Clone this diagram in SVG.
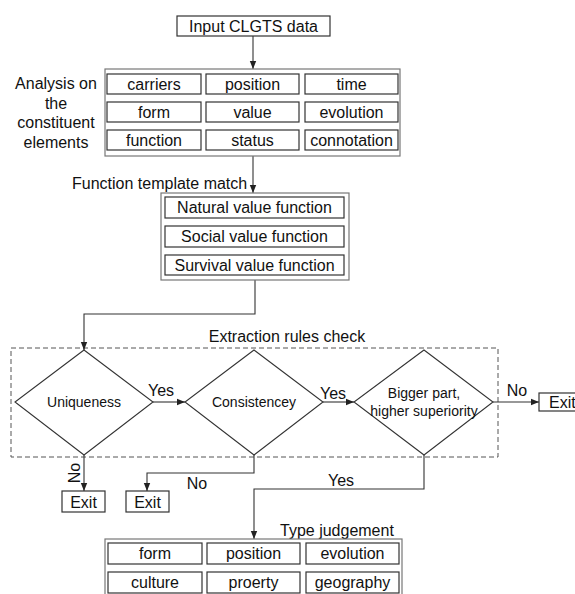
<svg xmlns="http://www.w3.org/2000/svg" width="575" height="594" viewBox="0 0 575 594">
  <style>
    text { font-family: "Liberation Sans", Arial, sans-serif; fill: #111; }
    .t16 { font-size: 16px; }
    .t14 { font-size: 14px; }
    .mid { text-anchor: middle; }
    .box { fill: #fff; stroke: #333; stroke-width: 1.2; }
    .outer { fill: #fff; stroke: #777; stroke-width: 1.2; }
    .dia { fill: none; stroke: #333; stroke-width: 1.1; }
    .line { fill: none; stroke: #333; stroke-width: 1.1; }
    .dash { fill: none; stroke: #555; stroke-width: 1; stroke-dasharray: 5 3; }
  </style>
  <defs>
    <marker id="arrow" viewBox="0 0 8 8" refX="8" refY="4" markerWidth="8" markerHeight="8" markerUnits="userSpaceOnUse" orient="auto">
      <path d="M0,0.8 L8,4 L0,7.2 Z" fill="#222"/>
    </marker>
  </defs>
  <rect width="575" height="594" fill="#fff"/>

  <!-- extraction rules frame -->
  <g id="extraction-frame">
    <rect class="dash" x="11" y="348" width="487" height="109"/>
    <text class="t16 mid" x="287" y="342">Extraction rules check</text>
  </g>

  <g id="connectors">
    <path class="line" d="M253,36 V69" marker-end="url(#arrow)"/>
    <path class="line" d="M253,156 V193" marker-end="url(#arrow)"/>
    <path class="line" d="M255,280 V314 H84 V350" marker-end="url(#arrow)"/>
    <path class="line" d="M153,402 H185" marker-end="url(#arrow)"/>
    <path class="line" d="M323,402 H354" marker-end="url(#arrow)"/>
    <path class="line" d="M493,402 H539" marker-end="url(#arrow)"/>
    <path class="line" d="M84,455 V491" marker-end="url(#arrow)"/>
    <path class="line" d="M254,455 V473 H147 V491" marker-end="url(#arrow)"/>
    <path class="line" d="M424,455 V489 H254 V539" marker-end="url(#arrow)"/>
    <text class="t16 mid" x="161" y="395.5">Yes</text>
    <text class="t16 mid" x="333" y="398.5">Yes</text>
    <text class="t16 mid" x="517" y="396">No</text>
    <text class="t16 mid" transform="translate(79.5,473) rotate(-90)">No</text>
    <text class="t16 mid" x="197" y="489">No</text>
    <text class="t16 mid" x="341" y="485.5">Yes</text>
  </g>

  <g id="input">
    <rect class="box" x="177" y="16" width="153" height="20"/>
    <text class="t16 mid" x="253.5" y="31.5">Input CLGTS data</text>
  </g>

  <g id="analysis">
    <text class="t16 mid" x="56" y="89">Analysis on</text>
    <text class="t16 mid" x="56" y="108.5">the</text>
    <text class="t16 mid" x="56" y="128">constituent</text>
    <text class="t16 mid" x="56" y="147.5">elements</text>
    <rect class="outer" x="105" y="69" width="295" height="87"/>
    <rect class="box" x="107" y="74" width="94" height="20"/>
    <rect class="box" x="206" y="74" width="93" height="20"/>
    <rect class="box" x="305" y="74" width="93" height="20"/>
    <rect class="box" x="107" y="102" width="94" height="20"/>
    <rect class="box" x="206" y="102" width="93" height="20"/>
    <rect class="box" x="305" y="102" width="93" height="20"/>
    <rect class="box" x="107" y="130" width="94" height="20"/>
    <rect class="box" x="206" y="130" width="93" height="20"/>
    <rect class="box" x="305" y="130" width="93" height="20"/>
    <text class="t16 mid" x="154" y="89.5">carriers</text>
    <text class="t16 mid" x="252.5" y="89.5">position</text>
    <text class="t16 mid" x="351.5" y="89.5">time</text>
    <text class="t16 mid" x="154" y="117.5">form</text>
    <text class="t16 mid" x="252.5" y="117.5">value</text>
    <text class="t16 mid" x="351.5" y="117.5">evolution</text>
    <text class="t16 mid" x="154" y="145.5">function</text>
    <text class="t16 mid" x="252.5" y="145.5">status</text>
    <text class="t16 mid" x="351.5" y="145.5">connotation</text>
  </g>

  <g id="function-template">
    <text class="t16" x="72" y="189">Function template match</text>
    <rect class="outer" x="161" y="193" width="188" height="87"/>
    <rect class="box" x="165" y="197" width="179" height="21"/>
    <rect class="box" x="165" y="226" width="179" height="21"/>
    <rect class="box" x="165" y="255" width="179" height="20"/>
    <text class="t16 mid" x="254.5" y="213">Natural value function</text>
    <text class="t16 mid" x="254.5" y="242">Social value function</text>
    <text class="t16 mid" x="254.5" y="270.5">Survival value function</text>
  </g>

  <g id="uniqueness">
    <path class="dia" d="M84,350 L153,402 L84,455 L15,402 Z"/>
    <text class="t14 mid" x="84" y="407">Uniqueness</text>
  </g>

  <g id="consistency">
    <path class="dia" d="M254,350 L323,402 L254,455 L185,402 Z"/>
    <text class="t14 mid" x="254" y="407">Consistencey</text>
  </g>

  <g id="superiority">
    <path class="dia" d="M424,350 L493,402 L424,455 L354,402 Z"/>
    <text class="t14 mid" x="424" y="398">Bigger part,</text>
    <text class="t14 mid" x="424" y="416">higher superiority</text>
  </g>

  <g id="exit-right">
    <rect class="box" x="539" y="393" width="50" height="18"/>
    <text class="t16" x="549" y="407.5">Exit</text>
  </g>

  <g id="exit-uniqueness">
    <rect class="box" x="62" y="491" width="43" height="21"/>
    <text class="t16 mid" x="83.5" y="507.5">Exit</text>
  </g>

  <g id="exit-consistency">
    <rect class="box" x="126" y="491" width="43" height="21"/>
    <text class="t16 mid" x="147.5" y="507.5">Exit</text>
  </g>

  <g id="type-judgement">
    <text class="t16" x="280" y="535.5">Type judgement</text>
    <rect class="outer" x="105" y="539" width="297" height="60"/>
    <rect class="box" x="108" y="543" width="94" height="21"/>
    <rect class="box" x="207" y="543" width="93" height="21"/>
    <rect class="box" x="306" y="543" width="93" height="21"/>
    <rect class="box" x="108" y="572" width="94" height="21"/>
    <rect class="box" x="207" y="572" width="93" height="21"/>
    <rect class="box" x="306" y="572" width="93" height="21"/>
    <text class="t16 mid" x="155" y="559">form</text>
    <text class="t16 mid" x="253.5" y="559">position</text>
    <text class="t16 mid" x="352.5" y="559">evolution</text>
    <text class="t16 mid" x="155" y="588">culture</text>
    <text class="t16 mid" x="253.5" y="588">proerty</text>
    <text class="t16 mid" x="352.5" y="588">geography</text>
  </g>
</svg>
